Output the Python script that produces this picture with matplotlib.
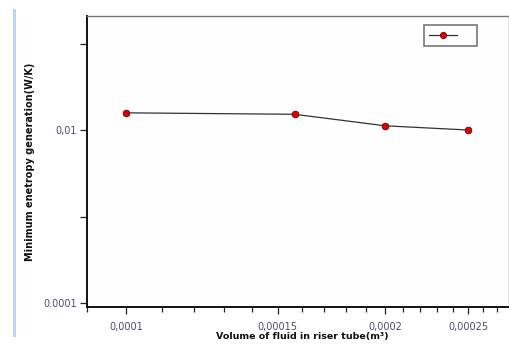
import matplotlib
matplotlib.use("Agg")
import matplotlib.pyplot as plt
from matplotlib.ticker import FixedLocator, NullFormatter, FixedFormatter
from matplotlib.lines import Line2D

# Data
volume = [0.0001, 0.000157, 0.0002, 0.00025]
entropy = [0.0158, 0.0152, 0.0112, 0.0100]

x_major = [0.0001, 0.00015, 0.0002, 0.00025]
x_major_labels = ["0,0001", "0,00015", "0,0002", "0,00025"]
x_minor = [0.00009, 0.00011, 0.00012, 0.00013, 0.00014, 0.00016, 0.00017, 0.00018,
           0.00019, 0.00021, 0.00022, 0.00023, 0.00024, 0.00026, 0.00027]
y_major = [0.0001, 0.01]
y_major_labels = ["0.0001", "0,01"]
y_minor = [0.001, 0.1]

fig = plt.figure(figsize=(5.10, 3.46), dpi=100)
fig.patch.set_facecolor("white")
ax = fig.add_axes([87/510, 1-307/346, (509-87)/510, (307-16)/346])
ax.set_facecolor("#fefefe")

ax.plot(volume, entropy, color="#333333", lw=0.9, marker="o", ms=4.8,
        mfc="#e00000", mec="#700000", mew=0.6, zorder=3)

ax.set_xscale("log")
ax.set_yscale("log")
ax.set_xlim(0.00009, 0.000279)
ax.set_ylim(0.0000900, 0.208)

ax.xaxis.set_major_locator(FixedLocator(x_major))
ax.xaxis.set_major_formatter(FixedFormatter(x_major_labels))
ax.xaxis.set_minor_locator(FixedLocator(x_minor))
ax.xaxis.set_minor_formatter(NullFormatter())
ax.yaxis.set_major_locator(FixedLocator(y_major))
ax.yaxis.set_major_formatter(FixedFormatter(y_major_labels))
ax.yaxis.set_minor_locator(FixedLocator(y_minor))
ax.yaxis.set_minor_formatter(NullFormatter())

lab_col = "#4a4a6a"
ax.tick_params(axis="x", which="major", length=5, width=0.9, color="#222222",
               labelsize=7, labelcolor=lab_col, pad=6)
ax.tick_params(axis="x", which="minor", length=3.5, width=0.9, color="#222222")
ax.tick_params(axis="y", which="major", length=5, width=0.9, color="#222222",
               labelsize=7, labelcolor=lab_col, pad=2)
ax.tick_params(axis="y", which="minor", length=5, width=0.9, color="#222222")

ax.spines["left"].set_linewidth(1.4)
ax.spines["left"].set_color("#111111")
ax.spines["bottom"].set_linewidth(1.4)
ax.spines["bottom"].set_color("#111111")
ax.spines["top"].set_linewidth(1.0)
ax.spines["top"].set_color("#777777")
ax.spines["right"].set_linewidth(1.0)
ax.spines["right"].set_color("#777777")

ax.set_xlabel("Volume of fluid in riser tube(m³)", fontsize=6.8, fontweight="bold",
              color="#111111", labelpad=1)
ax.set_ylabel("Minimum enetropy generation(W/K)", fontsize=7, fontweight="bold",
              color="#111111", labelpad=10)
ax.xaxis.set_label_coords(0.51, -0.085)
ax.yaxis.set_label_coords(-0.124, 0.50)

handle = Line2D([], [], color="#333333", lw=0.9, marker="o", ms=4.5,
                mfc="#e00000", mec="#700000", mew=0.6)
leg = ax.legend([handle], [""], loc="upper right", bbox_to_anchor=(0.924, 0.969),
                frameon=True, fancybox=False, handlelength=2.5, handletextpad=1.3,
                borderpad=0.5, borderaxespad=0, fontsize=8)
leg.get_frame().set_edgecolor("#555555")
leg.get_frame().set_linewidth(1.2)

# light blue vertical border at left
fig.add_artist(Line2D([14/510, 14/510], [1-335/346, 1-10/346], color="#bcd6ee", lw=2.2))

fig.savefig("out.png", dpi=100)
